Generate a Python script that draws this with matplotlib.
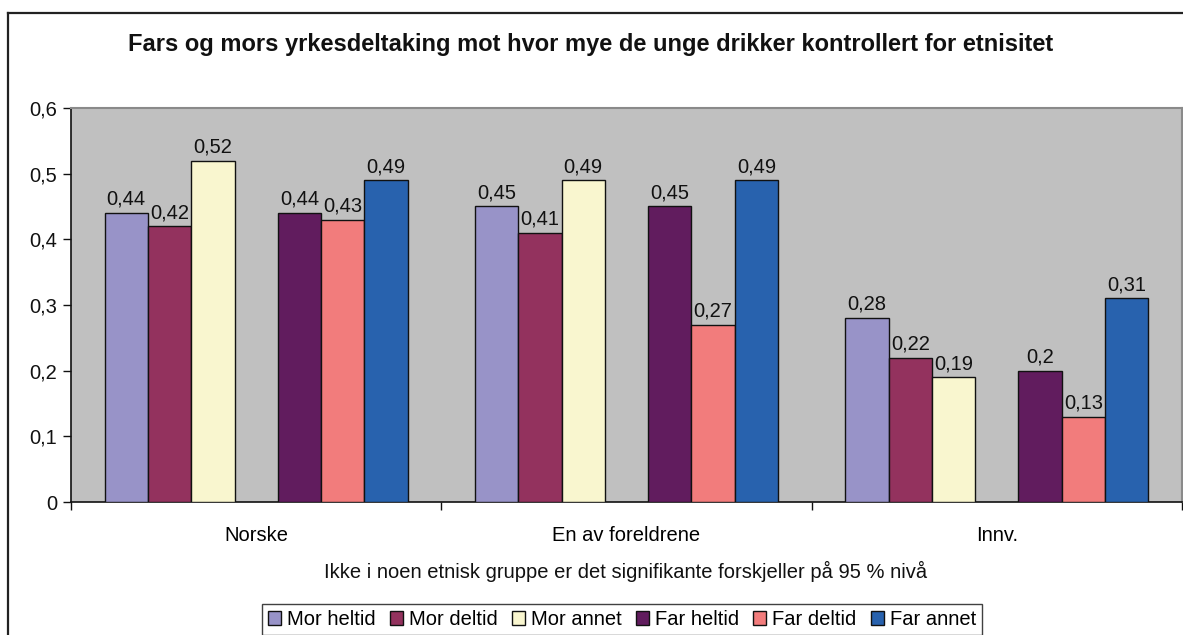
import matplotlib
matplotlib.use("Agg")
import matplotlib.pyplot as plt
from matplotlib.patches import Rectangle
from matplotlib.lines import Line2D
import numpy as np

plt.rcParams['font.family'] = ['Liberation Sans', 'DejaVu Sans']

categories = ["Norske", "En av foreldrene", "Innv."]
series_names = ["Mor heltid", "Mor deltid", "Mor annet", "Far heltid", "Far deltid", "Far annet"]
mor_heltid = [0.44, 0.45, 0.28]
mor_deltid = [0.42, 0.41, 0.22]
mor_annet = [0.52, 0.49, 0.19]
far_heltid = [0.44, 0.45, 0.20]
far_deltid = [0.43, 0.27, 0.13]
far_annet = [0.49, 0.49, 0.31]
yticks = [0, 0.1, 0.2, 0.3, 0.4, 0.5, 0.6]
title = "Fars og mors yrkesdeltaking mot hvor mye de unge drikker kontrollert for etnisitet"
xlabel = "Ikke i noen etnisk gruppe er det signifikante forskjeller på 95 % nivå"

colors = ["#9893C8", "#93325E", "#F9F6CF", "#611C5E", "#F27C7C", "#2862AE"]
all_series = [mor_heltid, mor_deltid, mor_annet, far_heltid, far_deltid, far_annet]
slots = [-3, -2, -1, 1, 2, 3]

FS = 14.5
W, H = 1183, 635
fig = plt.figure(figsize=(W / 100, H / 100), dpi=100)
fig.patch.set_facecolor("white")

# outer chart border (right/bottom cut off)
fig.add_artist(Line2D([8 / W, 8 / W], [0, 1 - 13 / H], transform=fig.transFigure, color="#222222", lw=1.6))
fig.add_artist(Line2D([8 / W, 1], [1 - 13 / H, 1 - 13 / H], transform=fig.transFigure, color="#222222", lw=1.6))

ax_l, ax_r, ax_t, ax_b = 71, 1182, 108, 502
ax = fig.add_axes([ax_l / W, 1 - ax_b / H, (ax_r - ax_l) / W, (ax_b - ax_t) / H])
ax.set_facecolor("#C0C0C0")

x = np.arange(len(categories))
w = 43.3 / ((ax_r - ax_l) / 3)
for s, vals, col, name in zip(slots, all_series, colors, series_names):
    bars = ax.bar(x + s * w, vals, width=w, color=col, edgecolor="#111111", linewidth=1.0, label=name, zorder=3)
    for b, v in zip(bars, vals):
        txt = f"{v:.2f}".rstrip("0").replace(".", ",")
        ax.annotate(txt, (b.get_x() + b.get_width() / 2, v), xytext=(0, 3), textcoords="offset points",
                    ha="center", va="bottom", fontsize=FS, color="#111111", zorder=4)

ax.set_xlim(-0.5, 2.5)
ax.set_ylim(0, 0.6)
ax.set_yticks(yticks)
ax.set_yticklabels([("0" if t == 0 else f"{t:.1f}".replace(".", ",")) for t in yticks], fontsize=FS)
ax.tick_params(axis="y", direction="out", length=6, width=1, pad=4, colors="#111111")
ax.set_xticks(x)
ax.set_xticklabels(categories, fontsize=FS)
ax.tick_params(axis="x", which="major", length=0, pad=17)
ax.set_xticks([-0.5, 0.5, 1.5, 2.5], minor=True)
ax.tick_params(axis="x", which="minor", direction="out", length=6, width=1, color="#111111")

for side in ["left", "bottom"]:
    ax.spines[side].set_color("#111111")
    ax.spines[side].set_linewidth(1.2)
for side in ["top", "right"]:
    ax.spines[side].set_color("#8A8A8A")
    ax.spines[side].set_linewidth(1.5)

fig.text(591 / W, 1 - 45 / H, title, ha="center", va="center", fontsize=17, fontweight="bold", color="#111111")
fig.text(626 / W, 1 - 571 / H, xlabel, ha="center", va="center", fontsize=FS, color="#111111")

handles = [Rectangle((0, 0), 1, 1, facecolor=c, edgecolor="#111111", linewidth=1.0) for c in colors]
leg = fig.legend(handles, series_names, loc="upper center", bbox_to_anchor=(622 / W, 1 - 604 / H),
                 ncol=6, fontsize=FS, frameon=True, fancybox=False, edgecolor="#111111",
                 handlelength=0.65, handleheight=0.65, handletextpad=0.3, columnspacing=0.7,
                 borderpad=0.3, borderaxespad=0)
leg.get_frame().set_linewidth(1.0)

fig.savefig("out.png", dpi=100, facecolor="white")
